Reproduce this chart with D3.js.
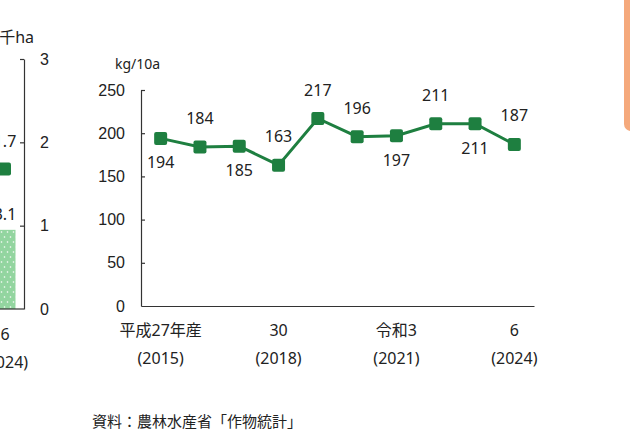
<!DOCTYPE html>
<html>
<head>
<meta charset="utf-8">
<script src="https://cdn.jsdelivr.net/npm/d3@7/dist/d3.min.js"></script>
<style>
  html, body { margin: 0; padding: 0; background: #fff; }
  svg { display: block; font-family: "Noto Sans", "Noto Sans CJK JP", sans-serif; }
  .axis path, .axis line { stroke: #333; stroke-width: 1.2; }
  .axis text { fill: #222; font-size: 16px; }
</style>
</head>
<body>
<svg id="chart" width="630" height="443"></svg>
<script>
// yield per 10a, by crop year
var years      = [2015, 2016, 2017, 2018, 2019, 2020, 2021, 2022, 2023, 2024];
var yields     = [194, 184, 185, 163, 217, 196, 197, 211, 211, 187];
var labelSide  = ['below', 'above', 'below', 'above', 'above', 'above', 'below', 'above', 'below', 'above'];
var yTicks     = [0, 50, 100, 150, 200, 250];
var xLabelYears = [2015, 2018, 2021, 2024];
var xLabelEra  = ['平成27年産', '30', '令和3', '6'];

// tail of the neighbouring chart (cut off at the left edge)
var prevTicks     = [0, 1, 2, 3];
var prevBarValue  = [0.95];
var prevLineValue = [1.68];
var prevBarLabel  = ['3.1'];
var prevLineLabel = ['1.7'];

var GREEN = '#1e7f40';
var svg = d3.select('#chart');

// ---- main chart ----
var x = d3.scaleBand().domain(years).range([141, 534]);
var y = d3.scaleLinear().domain([0, 250]).range([306, 90]);
var cx = function(d){ return x(d) + x.bandwidth() / 2; };

var yAxis = d3.axisLeft(y).tickValues(yTicks).tickSizeInner(-4).tickSizeOuter(0).tickPadding(16);
svg.append('g').attr('class', 'axis').attr('transform', 'translate(141,0)').call(yAxis)
  .selectAll('.tick').filter(function(d){ return d === 0; }).select('line').remove();

svg.append('g').attr('class', 'axis').attr('transform', 'translate(0,306)')
  .call(d3.axisBottom(x).tickValues([]).tickSizeOuter(0));

svg.append('text').attr('x', 115).attr('y', 69).attr('font-size', 14).attr('fill', '#222').text('kg/10a');

var xl = svg.append('g').selectAll('g').data(xLabelYears).enter().append('g')
  .attr('transform', function(d){ return 'translate(' + cx(d) + ',0)'; })
  .attr('text-anchor', 'middle').attr('fill', '#222').attr('font-size', 16);
xl.append('text').attr('y', 336).text(function(d, i){ return xLabelEra[i]; });
xl.append('text').attr('y', 364).text(function(d){ return '(' + d + ')'; });

var pts = years.map(function(yr, i){ return { year: yr, v: yields[i], side: labelSide[i] }; });

svg.append('path').datum(pts)
  .attr('fill', 'none').attr('stroke', GREEN).attr('stroke-width', 3)
  .attr('d', d3.line().x(function(d){ return cx(d.year); }).y(function(d){ return y(d.v); }));

svg.append('g').selectAll('rect').data(pts).enter().append('rect')
  .attr('x', function(d){ return cx(d.year) - 6.5; })
  .attr('y', function(d){ return y(d.v) - 6.5; })
  .attr('width', 13).attr('height', 13).attr('rx', 2)
  .attr('fill', GREEN);

svg.append('g').selectAll('text').data(pts).enter().append('text')
  .attr('x', function(d){ return cx(d.year); })
  .attr('y', function(d){ return y(d.v) + (d.side === 'above' ? -23 : 30); })
  .attr('text-anchor', 'middle').attr('font-size', 16).attr('fill', '#222')
  .text(function(d){ return d.v; });

svg.append('text').attr('x', 92).attr('y', 427).attr('font-size', 15).attr('fill', '#222')
  .text('資料：農林水産省「作物統計」');

// ---- neighbouring chart fragment ----
var yl = d3.scaleLinear().domain([0, 3]).range([309, 59]);
var px = 5;

var defs = svg.append('defs');
var pat = defs.append('pattern').attr('id', 'dots').attr('patternUnits', 'userSpaceOnUse')
  .attr('width', 6).attr('height', 10);
pat.append('rect').attr('width', 6).attr('height', 10).attr('fill', '#93d5a0');
pat.append('circle').attr('cx', 1.5).attr('cy', 2).attr('r', 0.8).attr('fill', '#fff');
pat.append('circle').attr('cx', 4.5).attr('cy', 7).attr('r', 0.8).attr('fill', '#fff');

svg.append('g').selectAll('rect').data(prevBarValue).enter().append('rect')
  .attr('x', px - 10.5).attr('width', 21)
  .attr('y', function(d){ return yl(d); })
  .attr('height', function(d){ return yl(0) - yl(d); })
  .attr('fill', 'url(#dots)');

svg.append('g').attr('class', 'axis').attr('transform', 'translate(24,0)')
  .call(d3.axisRight(yl).tickValues(prevTicks).tickFormat(d3.format('d'))
    .tickSizeInner(-4).tickSizeOuter(0).tickPadding(16))
  .selectAll('.tick').filter(function(d){ return d === 0; }).select('line').remove();
svg.append('line').attr('x1', 0).attr('x2', 24).attr('y1', yl(0)).attr('y2', yl(0))
  .attr('stroke', '#333').attr('stroke-width', 1.2);

svg.append('g').selectAll('rect').data(prevLineValue).enter().append('rect')
  .attr('x', px - 7).attr('y', function(d){ return yl(d) - 6.5; })
  .attr('width', 13).attr('height', 13).attr('rx', 2).attr('fill', GREEN);

svg.append('text').attr('x', px).attr('y', yl(prevLineValue[0]) - 22).attr('text-anchor', 'middle')
  .attr('font-size', 16).attr('fill', '#222').text(prevLineLabel[0]);
svg.append('text').attr('x', px).attr('y', yl(prevBarValue[0]) - 10).attr('text-anchor', 'middle')
  .attr('font-size', 16).attr('fill', '#222').text(prevBarLabel[0]);
svg.append('text').attr('x', 34).attr('y', 43).attr('text-anchor', 'end')
  .attr('font-size', 16).attr('fill', '#222').text('千ha');

svg.append('text').attr('x', px).attr('y', 340).attr('text-anchor', 'middle')
  .attr('font-size', 16).attr('fill', '#222').text('6');
svg.append('text').attr('x', px).attr('y', 368).attr('text-anchor', 'middle')
  .attr('font-size', 16).attr('fill', '#222').text('(2024)');

// orange panel edge at the right
svg.append('rect').attr('x', 624).attr('y', -10).attr('width', 20).attr('height', 141)
  .attr('rx', 7).attr('fill', '#f5a97c');
</script>
</body>
</html>
